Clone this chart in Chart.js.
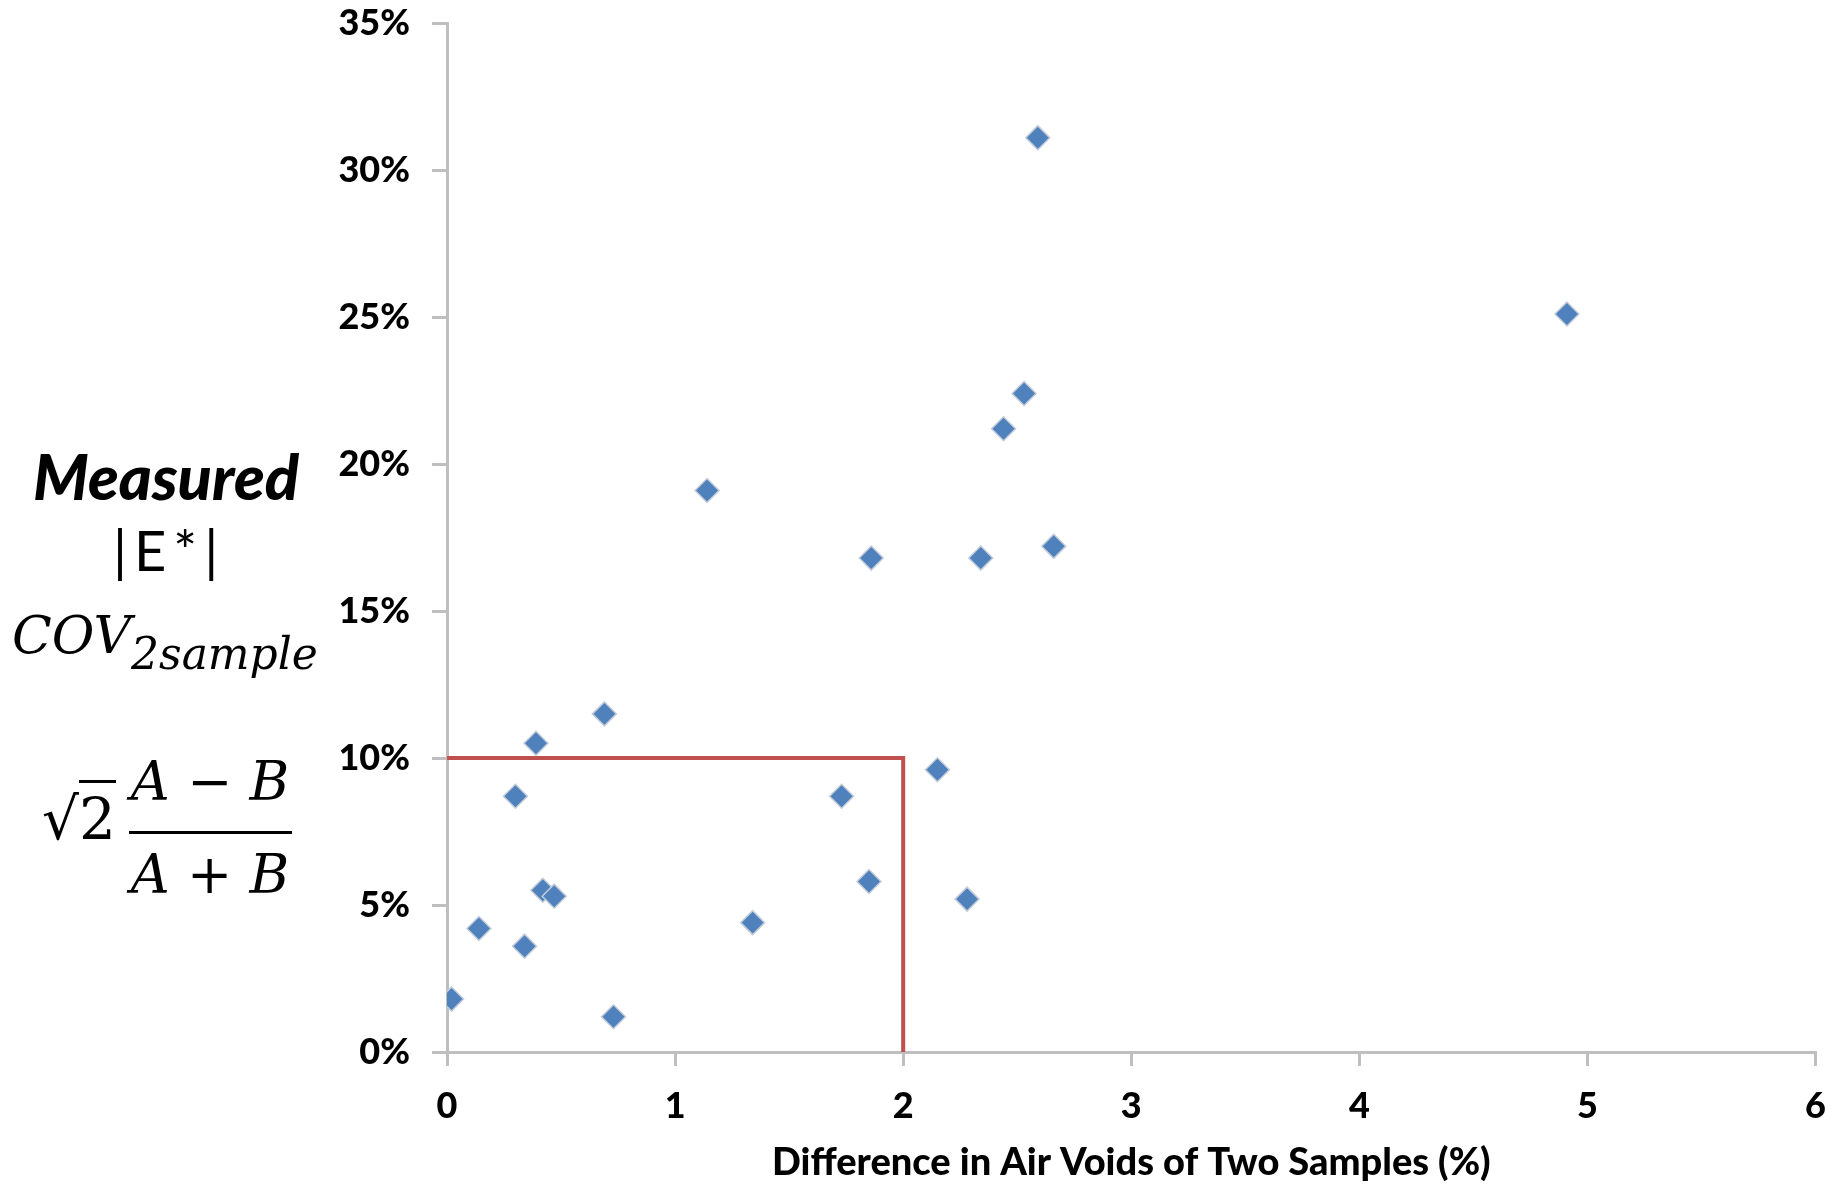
<!DOCTYPE html>
<html>
<head>
<meta charset="utf-8">
<script src="https://cdn.jsdelivr.net/npm/chart.js@4.4.1/dist/chart.umd.min.js"></script>
<style>
  body { margin: 0; background: #fff; }
  #wrap { position: relative; width: 1845px; height: 1189px; }
  .lbl { position: absolute; color: #000; white-space: nowrap; line-height: 1; }
  .math { font-family: "DejaVu Serif", serif; font-style: italic; }
</style>
</head>
<body>
<div id="wrap">
  <canvas id="myChart"></canvas>
  <div class="lbl" style="left:33px; top:444px; font-family:Lato; font-weight:900; font-style:italic; font-size:63px;">Measured</div>
  <div class="lbl" style="left:113px; top:522px; font-family:Lato; font-size:56px; letter-spacing:7px;">|E*|</div>
  <div class="lbl math" style="left:12px; top:609px; font-size:52px;">COV<sub style="font-size:44px; vertical-align:-16px;">2sample</sub></div>
  <div class="lbl" style="left:42px; top:790px; font-family:'DejaVu Serif'; font-size:58px;">√<span style="border-top:3px solid #000; padding-top:2px;">2</span></div>
  <div class="lbl math" style="left:127px; top:755px; width:166px; text-align:center; font-size:54px;">A − B</div>
  <div style="position:absolute; left:129px; top:831px; width:163px; height:3px; background:#000;"></div>
  <div class="lbl math" style="left:127px; top:848px; width:166px; text-align:center; font-size:54px;">A + B</div>
</div>
<script>
const airVoidDiff = [2.59, 4.91, 2.53, 2.44, 1.14, 1.86, 2.34, 2.66, 0.69, 0.39, 2.15,
  0.30, 1.73, 1.85, 2.28, 0.42, 0.47, 1.34, 0.14, 0.34, 0.02, 0.73];
const covValues = [31.1, 25.1, 22.4, 21.2, 19.1, 16.8, 16.8, 17.2, 11.5, 10.5, 9.6,
  8.7, 8.7, 5.8, 5.2, 5.5, 5.3, 4.4, 4.2, 3.6, 1.8, 1.2];
const limitX = [0, 2, 2];
const limitY = [10, 10, 0];
const xTicks = [0, 1, 2, 3, 4, 5, 6];
const yTicks = [0, 5, 10, 15, 20, 25, 30, 35];

const points = airVoidDiff.map((x, i) => ({ x, y: covValues[i] }));
const limitLine = limitX.map((x, i) => ({ x, y: limitY[i] }));

const axisColor = "#bfbfbf";
const tickFont = { family: "Lato", weight: "900", size: 36 };

const ctx = document.getElementById("myChart").getContext("2d");
const myChart = new Chart(ctx, {
  type: "scatter",
  data: {
    datasets: [
      {
        label: "COV",
        data: points,
        pointStyle: "rectRot",
        pointRadius: 12,
        backgroundColor: "#4f81bd",
        borderColor: "#c3ccd8",
        borderWidth: 1.5,
        order: 1,
      },
      {
        type: "line",
        label: "limit",
        data: limitLine,
        borderColor: "#c0504d",
        borderWidth: 4,
        pointRadius: 0,
        fill: false,
        order: 2,
      },
    ],
  },
  options: {
    responsive: true,
    maintainAspectRatio: false,
    animation: false,
    layout: { padding: { left: 0, top: 23, right: 23, bottom: 0 } },
    plugins: { legend: { display: false }, tooltip: { enabled: false } },
    scales: {
      x: {
        type: "linear",
        min: 0,
        max: 6,
        afterBuildTicks: (scale) => { scale.ticks = xTicks.map((v) => ({ value: v })); },
        afterFit: (scale) => { scale.height = 137; },
        grid: { drawOnChartArea: false, drawTicks: true, tickLength: 14, color: axisColor, lineWidth: 3 },
        border: { color: axisColor, width: 3 },
        ticks: { color: "#000", font: tickFont, padding: 19 },
        title: {
          display: true,
          text: "Difference in Air Voids of Two Samples (%)",
          color: "#000",
          font: { family: "Lato", weight: "900", size: 38 },
          padding: { top: 0, bottom: 3 },
        },
      },
      y: {
        type: "linear",
        min: 0,
        max: 35,
        afterBuildTicks: (scale) => { scale.ticks = yTicks.map((v) => ({ value: v })); },
        afterFit: (scale) => {
          scale.width = 447;
          scale.paddingTop = 0;
          scale.paddingBottom = 0;
        },
        grid: { drawOnChartArea: false, drawTicks: true, tickLength: 15, color: axisColor, lineWidth: 3 },
        border: { color: axisColor, width: 3 },
        ticks: { color: "#000", font: tickFont, padding: 22, callback: (v) => v + "%" },
      },
    },
  },
});
</script>
</body>
</html>
